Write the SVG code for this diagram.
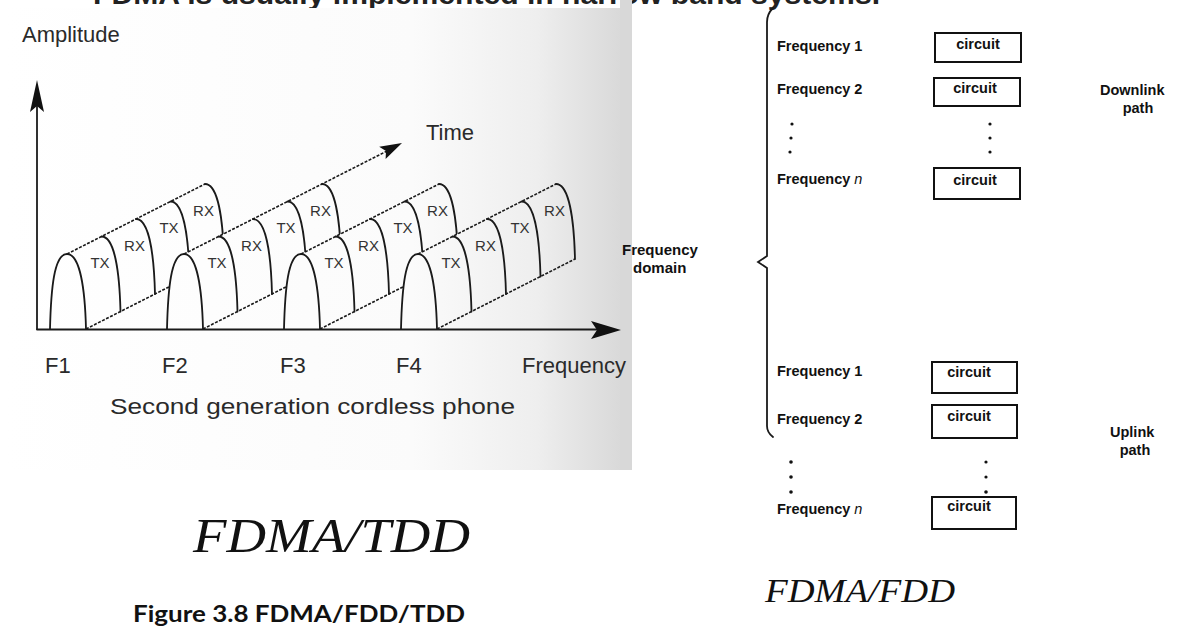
<svg xmlns="http://www.w3.org/2000/svg" width="1179" height="628" viewBox="0 0 1179 628">
<defs>
<linearGradient id="bg" gradientUnits="userSpaceOnUse" x1="5" y1="0" x2="632" y2="0">
<stop offset="0" stop-color="#ffffff"/>
<stop offset="0.65" stop-color="#fbfbfb"/>
<stop offset="0.85" stop-color="#eeeeee"/>
<stop offset="1" stop-color="#d6d6d6"/>
</linearGradient>
<style>
.ln{fill:none;stroke:#1a1a1a;stroke-width:1.8;stroke-linecap:round}
.ds{fill:none;stroke:#1a1a1a;stroke-width:1.6;stroke-dasharray:3 1.5}
.sil{fill:url(#bg);stroke:none}
.lab{font-family:"Liberation Sans Narrow","Liberation Sans",sans-serif;font-size:15px;fill:#333;text-anchor:middle}
.ax{font-family:"Liberation Sans Narrow","Liberation Sans",sans-serif;font-size:22px;fill:#2a2a2a}
.rt{font-family:"Liberation Sans",Arial,sans-serif;font-size:14.5px;font-weight:bold;fill:#111}
.fd{font-family:"Liberation Sans",Arial,sans-serif;font-size:15px;font-weight:bold;fill:#111}
.box{fill:#fff;stroke:#111;stroke-width:2}
.dot{fill:#111}
</style>
</defs>
<rect width="1179" height="628" fill="#fff"/>
<text x="93" y="4" font-family="Liberation Sans, sans-serif" font-size="27" font-weight="bold" fill="#222" textLength="787" lengthAdjust="spacingAndGlyphs">FDMA is usually implemented in narrow band systems.</text>
<rect x="5" y="8" width="627" height="462" fill="url(#bg)"/>
<rect x="620" y="0" width="12" height="470" fill="#d8d8d8"/>

<g id="chain1">
<path class="sil" d="M50,329 C51,289 54,254 67,254 L205,184 C218,184 223,219 224,259 L86,329 Z"/>
<path class="ln" d="M50,329 C51,289 54,254 67,254 C80,254 85,289 86,329"/>
<path class="ln" d="M101.5,236.5 C114.5,236.5 119.5,271.5 120.5,311.5 M136,219 C149,219 154,254 155,294 M170.5,201.5 C183.5,201.5 188.5,236.5 189.5,276.5 M205,184 C218,184 223,219 224,259"/>
<path class="ds" d="M67,254 L205,184 M86,329 L224,259"/>
<text class="lab" x="100" y="268">TX</text><text class="lab" x="134.5" y="250.5">RX</text><text class="lab" x="169" y="233">TX</text><text class="lab" x="203.5" y="215.5">RX</text>
</g>
<g id="chain2">
<path class="sil" d="M167,329 C168,289 171,254 184,254 L322,184 C335,184 340,219 341,259 L203,329 Z"/>
<path class="ln" d="M167,329 C168,289 171,254 184,254 C197,254 202,289 203,329"/>
<path class="ln" d="M218.5,236.5 C231.5,236.5 236.5,271.5 237.5,311.5 M253,219 C266,219 271,254 272,294 M287.5,201.5 C300.5,201.5 305.5,236.5 306.5,276.5 M322,184 C335,184 340,219 341,259"/>
<path class="ds" d="M184,254 L388,150.5 M203,329 L341,259"/>
<text class="lab" x="217" y="268">TX</text><text class="lab" x="251.5" y="250.5">RX</text><text class="lab" x="286" y="233">TX</text><text class="lab" x="320.5" y="215.5">RX</text>
</g>
<g id="chain3">
<path class="sil" d="M284,329 C285,289 288,254 301,254 L439,184 C452,184 457,219 458,259 L320,329 Z"/>
<path class="ln" d="M284,329 C285,289 288,254 301,254 C314,254 319,289 320,329"/>
<path class="ln" d="M335.5,236.5 C348.5,236.5 353.5,271.5 354.5,311.5 M370,219 C383,219 388,254 389,294 M404.5,201.5 C417.5,201.5 422.5,236.5 423.5,276.5 M439,184 C452,184 457,219 458,259"/>
<path class="ds" d="M301,254 L439,184 M320,329 L458,259"/>
<text class="lab" x="334" y="268">TX</text><text class="lab" x="368.5" y="250.5">RX</text><text class="lab" x="403" y="233">TX</text><text class="lab" x="437.5" y="215.5">RX</text>
</g>
<g id="chain4">
<path class="sil" d="M401,329 C402,289 405,254 418,254 L556,184 C569,184 574,219 575,259 L437,329 Z"/>
<path class="ln" d="M401,329 C402,289 405,254 418,254 C431,254 436,289 437,329"/>
<path class="ln" d="M452.5,236.5 C465.5,236.5 470.5,271.5 471.5,311.5 M487,219 C500,219 505,254 506,294 M521.5,201.5 C534.5,201.5 539.5,236.5 540.5,276.5 M556,184 C569,184 574,219 575,259"/>
<path class="ds" d="M418,254 L556,184 M437,329 L575,259"/>
<text class="lab" x="451" y="268">TX</text><text class="lab" x="485.5" y="250.5">RX</text><text class="lab" x="520" y="233">TX</text><text class="lab" x="554.5" y="215.5">RX</text>
</g>

<g id="axes">
<path class="ln" d="M37,329 L37,104"/>
<polygon points="37,80 44,112 37,106 30,112" fill="#111"/>
<path class="ln" d="M37,329.5 L600,329.5" stroke-width="2.2"/>
<polygon points="621,330 591,321 597,330 591,339" fill="#111"/>
<polygon points="402,143 379.2,146.7 386,151.1 385.6,159.1" fill="#111"/>
</g>

<g id="left-labels">
<text class="ax" x="22" y="42">Amplitude</text>
<text class="ax" x="426" y="140">Time</text>
<text class="ax" x="45" y="373">F1</text>
<text class="ax" x="162" y="373">F2</text>
<text class="ax" x="280" y="373">F3</text>
<text class="ax" x="396" y="373">F4</text>
<text class="ax" x="522" y="373">Frequency</text>
<text class="ax" x="110" y="414" textLength="405" lengthAdjust="spacingAndGlyphs">Second generation cordless phone</text>
<text x="193" y="552" font-family="Liberation Serif, serif" font-style="italic" font-size="48" fill="#111" textLength="277" lengthAdjust="spacingAndGlyphs">FDMA/TDD</text>
<text x="133" y="622" font-family="Lato, Liberation Sans, sans-serif" font-weight="bold" font-size="23" fill="#111" textLength="332" lengthAdjust="spacingAndGlyphs">Figure 3.8  FDMA/FDD/TDD</text>
</g>

<g id="brace">
<path class="ln" stroke-width="2" d="M773,8 C769,12 767,16 767,22 L767,256 L758,262 L767,268 L767,426 C767,431 769,434 773,437"/>
</g>
<g id="frequency-domain">
<text class="fd" x="622" y="255">Frequency</text>
<text class="fd" x="633" y="273">domain</text>
</g>

<g id="downlink">
<text class="rt" x="777" y="51">Frequency 1</text>
<rect class="box" x="935" y="33" width="86" height="29"/>
<text class="rt" x="978" y="49" text-anchor="middle">circuit</text>
<text class="rt" x="777" y="94">Frequency 2</text>
<rect class="box" x="934" y="78" width="86" height="28"/>
<text class="rt" x="975" y="93" text-anchor="middle">circuit</text>
<circle class="dot" cx="792" cy="124" r="1.6"/><circle class="dot" cx="791" cy="138" r="1.6"/><circle class="dot" cx="790" cy="152" r="1.6"/>
<circle class="dot" cx="990" cy="124" r="1.6"/><circle class="dot" cx="990" cy="138" r="1.6"/><circle class="dot" cx="990" cy="152" r="1.6"/>
<text class="rt" x="777" y="184">Frequency <tspan font-style="italic" font-weight="normal">n</tspan></text>
<rect class="box" x="934" y="168" width="86" height="31"/>
<text class="rt" x="975" y="185" text-anchor="middle">circuit</text>
<text class="rt" x="1100" y="95">Downlink</text>
<text class="rt" x="1138" y="113" text-anchor="middle">path</text>
</g>

<g id="uplink">
<text class="rt" x="777" y="376">Frequency 1</text>
<rect class="box" x="932" y="362" width="85" height="31"/>
<text class="rt" x="969" y="377" text-anchor="middle">circuit</text>
<text class="rt" x="777" y="424">Frequency 2</text>
<rect class="box" x="932" y="405" width="85" height="33"/>
<text class="rt" x="969" y="421" text-anchor="middle">circuit</text>
<circle class="dot" cx="791" cy="462" r="1.8"/><circle class="dot" cx="791" cy="477" r="1.8"/><circle class="dot" cx="791" cy="492" r="1.8"/>
<circle class="dot" cx="986" cy="462" r="1.6"/><circle class="dot" cx="986" cy="477" r="1.6"/><circle class="dot" cx="986" cy="492" r="1.8"/>
<text class="rt" x="777" y="514">Frequency <tspan font-style="italic" font-weight="normal">n</tspan></text>
<rect class="box" x="932" y="497" width="84" height="32"/>
<text class="rt" x="969" y="511" text-anchor="middle">circuit</text>
<text class="rt" x="1110" y="437">Uplink</text>
<text class="rt" x="1135" y="455" text-anchor="middle">path</text>
</g>
<text x="765" y="602" font-family="Liberation Serif, serif" font-style="italic" font-size="33" fill="#111" textLength="190" lengthAdjust="spacingAndGlyphs">FDMA/FDD</text>
</svg>
